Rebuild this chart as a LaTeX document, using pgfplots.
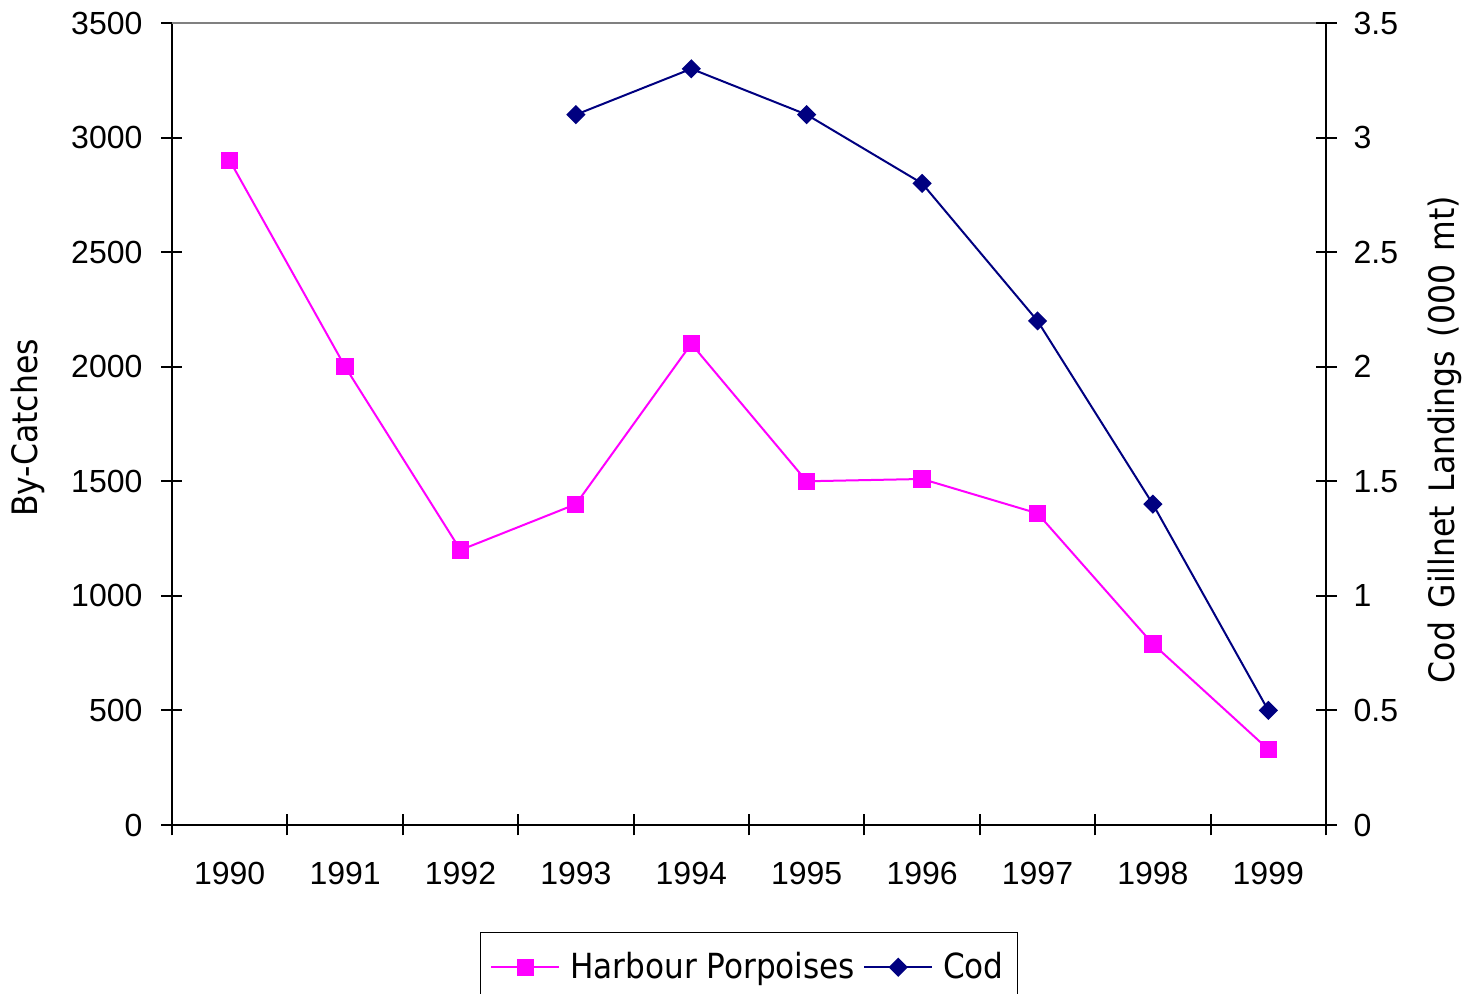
\documentclass[border=0pt]{standalone}
\usepackage{pgfplots}
\pgfplotsset{compat=1.18}
\usepackage{fontspec}
\setmainfont{Liberation Sans}
\newfontfamily\lblfont{DejaVu Sans Condensed}
\definecolor{hp}{RGB}{255,0,255}
\definecolor{cod}{RGB}{0,0,128}
\begin{document}
\begin{tikzpicture}
\pgfplotsset{
  every axis/.append style={
    scale only axis, width=577pt, height=401pt,
    xmin=-0.5, xmax=9.5, ymin=0,
    tick align=center, major tick length=10.5pt,
    axis line style={-, line width=1pt, black},
    every tick/.style={black, line width=1pt},
    tick label style={font=\fontsize{16}{19}\selectfont},
    /pgf/number format/assume math mode=true,
    /pgf/number format/set thousands separator={},
  },
}
\begin{axis}[
  at={(0,0)}, anchor=south west,
  axis x line*=bottom, axis y line*=left,
  ymax=3500, ytick={0,500,...,3500},
  xtick={-0.5,0.5,1.5,2.5,3.5,4.5,5.5,6.5,7.5,8.5,9.5},
  x tick label as interval,
  xticklabels={1990,1991,1992,1993,1994,1995,1996,1997,1998,1999},
  xticklabel style={yshift=-10pt},
  yticklabel style={xshift=-6pt},
  ylabel={By-Catches},
  ylabel style={at={(axis description cs:-0.1248,0.495)}, anchor=center, rotate=0, font=\lblfont\fontsize{17.5}{20}\selectfont},
  legend columns=2,
  legend style={at={(0.5,-0.1334)}, anchor=north, draw=black, line width=0.6pt,
    font=\lblfont\fontsize{17.3}{20}\selectfont, inner xsep=5pt, inner ysep=8pt,
    /tikz/every odd column/.append style={column sep=3pt},
    /tikz/every even column/.append style={column sep=2pt}},
  legend image code/.code={\draw[#1, line width=1pt, mark=none] (0pt,0pt) -- (34pt,0pt);
    \draw[#1, only marks] plot coordinates {(17pt,0pt)};},
]
\addplot[hp, line width=1pt, mark=square*, mark size=3.8pt, mark options={solid, fill=hp}]
  coordinates {(0,2900) (1,2000) (2,1200) (3,1400) (4,2100) (5,1500) (6,1510) (7,1360) (8,790) (9,330)};
\addlegendentry{Harbour Porpoises}
\addlegendimage{cod, line width=1pt, mark=square*, mark size=2.9pt, mark options={solid, fill=cod, rotate=45}}
\addlegendentry{Cod}
\draw[gray, line width=1pt] (rel axis cs:0,1) -- (rel axis cs:1,1);
\end{axis}
\begin{axis}[
  at={(0,0)}, anchor=south west,
  axis x line=none, axis y line*=right,
  ymax=3.5, ytick={0,0.5,...,3.5},
  yticklabel style={xshift=5pt},
  ylabel={Cod\hspace{0.1em} Gillnet\hspace{0.1em} Landings\hspace{0.1em} (000\hspace{0.1em} mt)},
  ylabel style={at={(axis description cs:1.1031,0.4807)}, anchor=center, rotate=0, font=\lblfont\fontsize{17.5}{20}\selectfont},
]
\addplot[cod, line width=1pt, mark=square*, mark size=2.9pt, mark options={solid, fill=cod, rotate=45}]
  coordinates {(3,3.1) (4,3.3) (5,3.1) (6,2.8) (7,2.2) (8,1.4) (9,0.5)};
\end{axis}
\pgfresetboundingbox
\path (-86pt,-84.5pt) rectangle (648pt,412.5pt);
\end{tikzpicture}
\end{document}
